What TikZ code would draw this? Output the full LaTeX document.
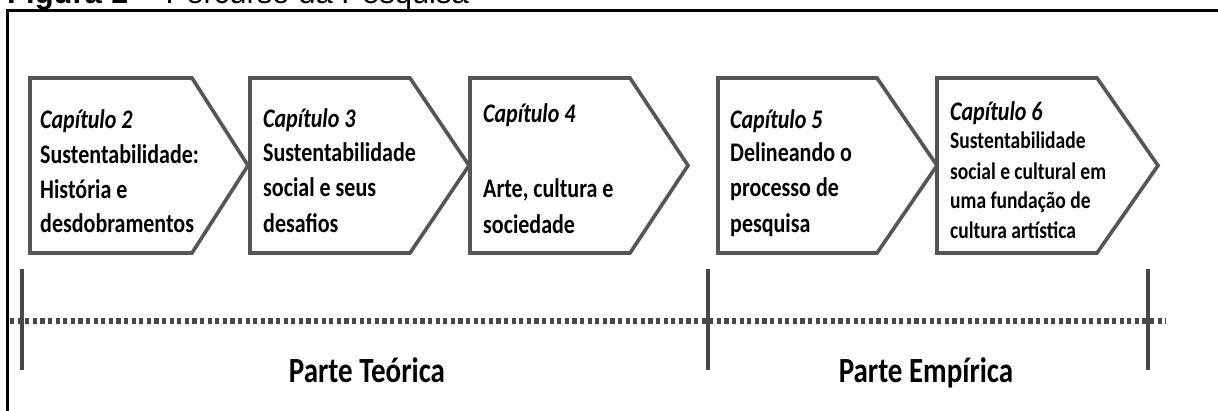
\documentclass[tikz,border=0pt]{standalone}
\usepackage{graphicx}
\usepackage{fontspec}
\setmainfont{Carlito}
\newfontfamily\arialfont{Liberation Sans}
\definecolor{boxgray}{HTML}{555555}
\definecolor{bargray}{HTML}{474747}
\newcommand\tallt[1]{\scalebox{1}[1.22]{#1}}
\tikzset{
  chev/.style={draw=boxgray, line width=3.6pt, line join=miter, fill=white},
  bodytxt/.style={anchor=base west, inner sep=0pt, font=\fontsize{22}{26}\selectfont\bfseries},
  headtxt/.style={anchor=base west, inner sep=0pt, font=\fontsize{22}{26}\selectfont\bfseries\itshape},
  smalltxt/.style={anchor=base west, inner sep=0pt, font=\fontsize{19.5}{23}\selectfont\bfseries},
  partlabel/.style={anchor=base, inner sep=0pt, font=\fontsize{29}{34}\selectfont\bfseries},
  bar/.style={draw=bargray, line width=3.6pt},
  dotline/.style={draw=bargray, line width=5.5pt, dash pattern=on 4.2pt off 3.4pt},
  frameline/.style={draw=black, line width=2.5pt}
}
\begin{document}
\begin{tikzpicture}[x=1pt,y=-1pt]
\useasboundingbox (0,0) rectangle (1218,410);
\fill[white] (0,0) rectangle (1218,410);
% title (cut off by the page edge)
\node[anchor=base west, inner sep=0pt, font=\arialfont\fontsize{31}{36}\selectfont] (title) at (7,3) {\textbf{Figura 1} -- Percurso da Pesquisa};
% frame
\draw[frameline] (7.7,420) -- (7.7,10.3) -- (1230,10.3);
% chapter shapes
\draw[chev] (30,78) -- (192,78) -- (248,165.5) -- (192,253) -- (30,253) -- cycle;
\draw[chev] (250,78) -- (410,78) -- (469,165.5) -- (410,253) -- (250,253) -- cycle;
\draw[chev] (470,78) -- (630,78) -- (688,165.5) -- (630,253) -- (470,253) -- cycle;
\draw[chev] (718,78) -- (877,78) -- (937,165.5) -- (877,253) -- (718,253) -- cycle;
\draw[chev] (937,78) -- (1097,78) -- (1158,165.5) -- (1097,253) -- (937,253) -- cycle;
% chapter 2
\node[headtxt] (c2a) at (40,128) {\tallt{Capítulo 2}};
\node[bodytxt] (c2b) at (40,163) {\tallt{Sustentabilidade:}};
\node[bodytxt] (c2c) at (40,198) {\tallt{História e}};
\node[bodytxt] (c2d) at (40,232) {\tallt{desdobramentos}};
% chapter 3
\node[headtxt] (c3a) at (263,127) {\tallt{Capítulo 3}};
\node[bodytxt] (c3b) at (263,161) {\tallt{Sustentabilidade}};
\node[bodytxt] (c3c) at (263,196) {\tallt{social e seus}};
\node[bodytxt] (c3d) at (263,232) {\tallt{desafios}};
% chapter 4
\node[headtxt] (c4a) at (483,122) {\tallt{Capítulo 4}};
\node[bodytxt] (c4b) at (483,197) {\tallt{Arte, cultura e}};
\node[bodytxt] (c4c) at (483,233) {\tallt{sociedade}};
% chapter 5
\node[headtxt] (c5a) at (730,128) {\tallt{Capítulo 5}};
\node[bodytxt] (c5b) at (730,161) {\tallt{Delineando o}};
\node[bodytxt] (c5c) at (730,196) {\tallt{processo de}};
\node[bodytxt] (c5d) at (730,232) {\tallt{pesquisa}};
% chapter 6
\node[headtxt] (c6a) at (950,120) {\tallt{Capítulo 6}};
\node[smalltxt] (c6b) at (950,148) {\tallt{Sustentabilidade}};
\node[smalltxt] (c6c) at (950,179) {\tallt{social e cultural em}};
\node[smalltxt] (c6d) at (950,208) {\tallt{uma fundação de}};
\node[smalltxt] (c6e) at (950,238) {\tallt{cultura artística}};
% timeline
\draw[dotline] (10,321) -- (1166,321);
\draw[bar] (22,269) -- (22,370);
\draw[bar] (708,269) -- (708,370);
\draw[bar] (1148,269) -- (1148,370);
\node[partlabel] (pt) at (367,382) {\tallt{Parte Teórica}};
\node[partlabel] (pe) at (926,382) {\tallt{Parte Empírica}};
\end{tikzpicture}
\end{document}
